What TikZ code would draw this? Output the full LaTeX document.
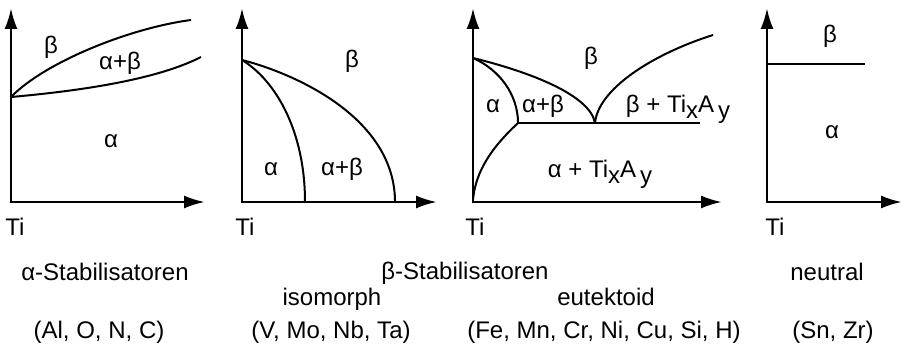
\documentclass[tikz,border=0pt]{standalone}
\usepackage{fontspec}
\setmainfont{Liberation Sans}
\usetikzlibrary{arrows.meta}
\newcommand{\tief}[1]{\raisebox{-6pt}{#1}}

\begin{document}
\begin{tikzpicture}[x=1pt, y=-1pt,
    axis/.style={{Latex[length=21pt,width=13pt]}-{Latex[length=21pt,width=13pt]}, line width=2.6pt},
    phase/.style={line width=2pt},
    lbl/.style={anchor=base, inner sep=0pt, font=\fontsize{24}{28}\selectfont},
]
\useasboundingbox (0,0) rectangle (904,345);

% alpha-Stabilisatoren
\coordinate (t1) at (11,97);
\draw[axis] (11,8) |- (205,202);
\draw[phase] (t1) .. controls (45,62) and (130,28) .. (191,20);
\draw[phase] (t1) .. controls (90,90) and (160,78) .. (201,57);
\node[lbl] (b1) at (51,53) {β};
\node[lbl] (ab1) at (120,70) {α+β};
\node[lbl] (a1) at (111,147) {α};
\node[lbl] (ti1) at (15,235) {Ti};

% isomorph
\coordinate (t2) at (242,60);
\draw[axis] (242,8) |- (437,202);
\draw[phase] (t2) .. controls (275,80) and (305,130) .. (305,202);
\draw[phase] (t2) .. controls (300,75) and (395,120) .. (395,202);
\node[lbl] (b2) at (352,67) {β};
\node[lbl] (a2) at (271,175) {α};
\node[lbl] (ab2) at (342,175) {α+β};
\node[lbl] (ti2) at (245,235) {Ti};

% eutektoid
\coordinate (t3) at (473,58);
\coordinate (p3) at (518,123);
\coordinate (e3) at (595,123);
\draw[axis] (473,8) |- (722,202);
\draw[phase] (t3) .. controls (500,70) and (518,95) .. (p3);
\draw[phase] (t3) .. controls (530,72) and (590,95) .. (e3);
\draw[phase] (e3) .. controls (598,90) and (650,55) .. (713,35);
\draw[phase] (p3) -- (700,123);
\draw[phase] (473,200) .. controls (476,165) and (500,140) .. (p3);
\node[lbl] (b3) at (591,64) {β};
\node[lbl] (a3) at (493,112) {α};
\node[lbl] (ab3) at (543,112) {α+β};
\node[lbl] (bt3) at (678,112) {β + Ti\tief{x}A\,\tief{y}};
\node[lbl] (at3) at (600,177) {α + Ti\tief{x}A\,\tief{y}};
\node[lbl] (ti3) at (475,235) {Ti};

% neutral
\draw[axis] (767,8) |- (902,202);
\draw[phase] (767,64) -- (865,64);
\node[lbl] (b4) at (830,43) {β};
\node[lbl] (a4) at (832,138) {α};
\node[lbl] (ti4) at (775,235) {Ti};

% Beschriftung
\node[lbl] (alstab) at (105,280) {α-Stabilisatoren};
\node[lbl] (bestab) at (465,279) {β-Stabilisatoren};
\node[lbl] (iso) at (332,305) {isomorph};
\node[lbl] (eut) at (606,305) {eutektoid};
\node[lbl] (neu) at (827,280) {neutral};
\node[lbl] (el1) at (99,338) {(Al, O, N, C)};
\node[lbl] (el2) at (331,338) {(V, Mo, Nb, Ta)};
\node[lbl] (el3) at (604,338) {(Fe, Mn, Cr, Ni, Cu, Si, H)};
\node[lbl] (el4) at (833,338) {(Sn, Zr)};
\end{tikzpicture}
\end{document}
